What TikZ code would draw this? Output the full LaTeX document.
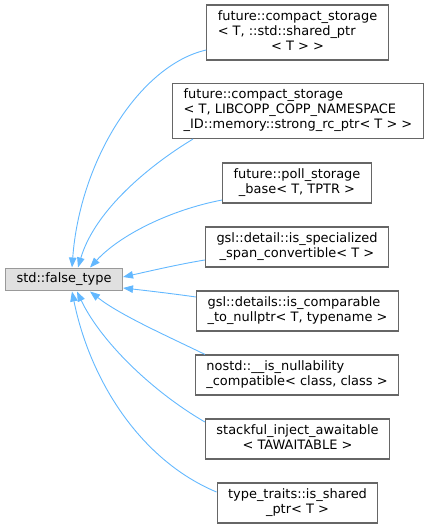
\documentclass[tikz,border=0pt]{standalone}
\usepackage{fontspec}
\setmainfont{DejaVu Sans}
\usepackage{tikz}
\usetikzlibrary{arrows.meta}
\usepackage{xcolor}
\definecolor{edgeblue}{HTML}{63B8FF}
\definecolor{boxgray}{HTML}{666666}
\definecolor{basegray}{HTML}{999999}
\definecolor{basefill}{HTML}{E0E0E0}
\newcommand{\boxlines}[2]{\begin{tabular}{@{}l@{}}#1\\\multicolumn{1}{@{}c@{}}{#2}\end{tabular}}

\begin{document}
\begin{tikzpicture}[x=1pt, y=-1pt, >={Triangle[length=10pt, width=7.5pt]},
    font=\fontsize{12.95}{15}\selectfont,
    cls/.style={draw=boxgray, line width=1.1pt, inner xsep=11pt, inner ysep=5pt},
    base/.style={cls, draw=basegray, fill=basefill, inner ysep=5pt},
    inh/.style={edgeblue, line width=0.9pt, <-}]
    \useasboundingbox (0,0) rectangle (428,529);
    \node[base] (ft) at (64, 279.5) {std::false\_type};
    \node[cls] (b1) at (297.5, 32.5) {\boxlines{future::compact\_storage\\< T, ::std::shared\_ptr}{< T > >}};
    \node[cls] (b2) at (298, 111) {\boxlines{future::compact\_storage\\< T, LIBCOPP\_COPP\_NAMESPACE}{\_ID::memory::strong\_rc\_ptr< T > >}};
    \node[cls] (b3) at (297, 183) {\boxlines{future::poll\_storage}{\_base< T, TPTR >}};
    \node[cls] (b4) at (297, 247) {\boxlines{gsl::detail::is\_specialized}{\_span\_convertible< T >}};
    \node[cls] (b5) at (297.5, 311) {\boxlines{gsl::details::is\_comparable}{\_to\_nullptr< T, typename >}};
    \node[cls] (b6) at (297, 375) {\boxlines{nostd::\_\_is\_nullability}{\_compatible< class, class >}};
    \node[cls] (b7) at (297.5, 439) {\boxlines{stackful\_inject\_awaitable}{< TAWAITABLE >}};
    \node[cls] (b8) at (297.5, 503) {\boxlines{type\_traits::is\_shared}{\_ptr< T >}};
    % inheritance edges
    \draw[inh] ([xshift=8pt]ft.north) .. controls (80,160) and (140,65) .. ([yshift=-17.5pt]b1.west);
    \draw[inh] ([xshift=14pt]ft.north) .. controls (95,210) and (150,165) .. ([xshift=-105pt]b2.south);
    \draw[inh] ([xshift=26pt]ft.north) .. controls (120,235) and (170,210) .. ([yshift=-17pt]b3.west);
    \draw[inh] ([yshift=2.5pt]ft.east) .. controls (150,271) and (180,264) .. ([yshift=-13pt]b4.west);
    \draw[inh] ([yshift=-8.5pt]ft.east) .. controls (150,291) and (175,294) .. ([yshift=14pt]b5.west);
    \draw[inh] ([xshift=26pt]ft.south) .. controls (120,315) and (165,335) .. ([xshift=-92pt]b6.north);
    \draw[inh] ([xshift=13pt]ft.south) .. controls (100,340) and (150,390) .. ([yshift=17pt]b7.west);
    \draw[inh] ([xshift=8pt]ft.south) .. controls (90,380) and (140,460) .. ([yshift=11pt]b8.west);
  \end{tikzpicture}
\end{document}
